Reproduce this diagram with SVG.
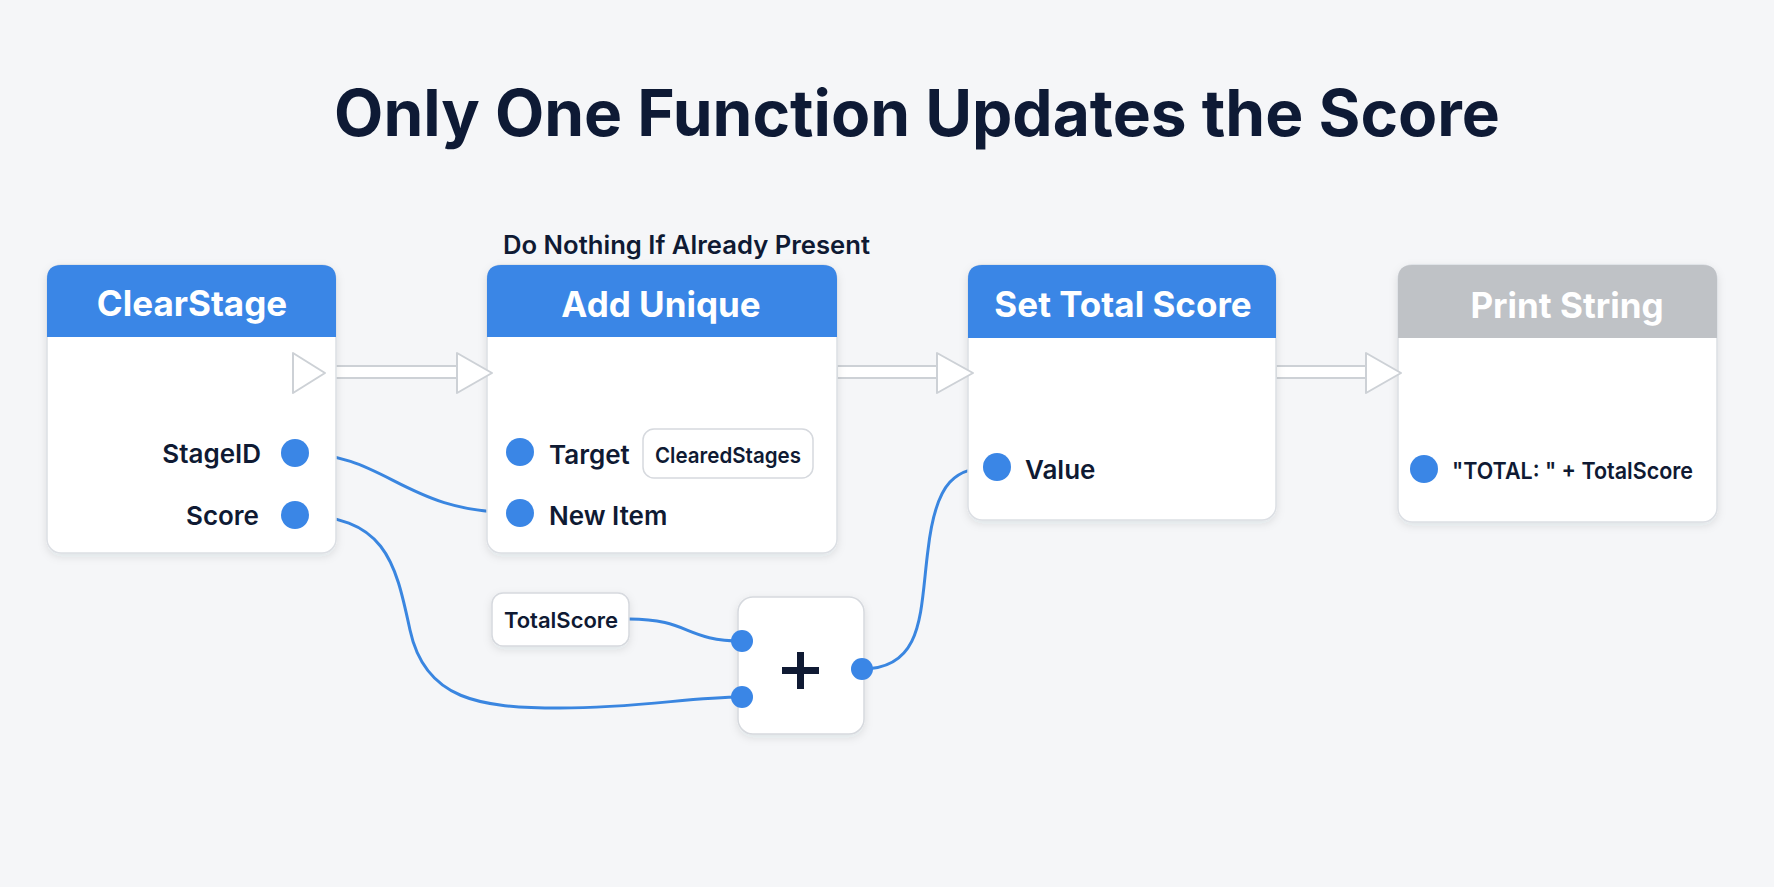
<svg xmlns="http://www.w3.org/2000/svg" width="1774" height="887" viewBox="0 0 1774 887">
<defs>
<filter id="sh" x="-10%" y="-10%" width="120%" height="130%">
<feDropShadow dx="0" dy="3" stdDeviation="4" flood-color="#1a2540" flood-opacity="0.10"/>
</filter>
<style>
.body{fill:#ffffff;stroke:#dcdfe4;stroke-width:1.5}
.hdr{fill:#3a86e6}
.hdrg{fill:#bfc2c6}
.ttl{font-family:Inter,"Liberation Sans",sans-serif;font-weight:700;font-size:35px;fill:#ffffff;text-anchor:middle}
.lbl{font-family:Inter,"Liberation Sans",sans-serif;font-weight:600;font-size:26px;fill:#0f1a33}
.pin{fill:#3a86e6}
.wire{fill:none;stroke:#3a86e0;stroke-width:3;stroke-linecap:round}
.exec{fill:#ffffff;stroke:#cdd1d6;stroke-width:2;stroke-linejoin:round}
.chip{fill:#ffffff;stroke:#d6d9de;stroke-width:1.5}
</style>
</defs>
<rect x="0" y="0" width="1774" height="887" fill="#f5f6f8"/>
<text x="917" y="136" font-family="Inter,'Liberation Sans',sans-serif" font-weight="700" font-size="64" fill="#0e1a35" text-anchor="middle">Only One Function Updates the Score</text>

<g id="connectors">
<rect class="exec" x="322" y="366" width="140" height="12"/>
<rect class="exec" x="837" y="366" width="104" height="12"/>
<rect class="exec" x="1276" y="366" width="94" height="12"/>
<path class="wire" d="M295,453 C390,453 400,513 520,513"/>
<path class="wire" d="M295,515 C385,515 395,560 410,630 C425,700 480,708 560,708 C640,708 690,697 742,697"/>
<path class="wire" d="M629,619 C690,619 685,641 742,641"/>
<path class="wire" d="M862,669 C925,669 920,610 928,550 C936,480 955,467 997,467"/>
</g>

<g id="clearstage">
<rect class="body" x="47" y="265" width="289" height="288" rx="14" filter="url(#sh)"/>
<path class="hdr" d="M47,337 V279 Q47,265 61,265 H322 Q336,265 336,279 V337 Z"/>
<text class="ttl" x="192" y="316">ClearStage</text>
<polygon class="exec" points="293,353 325,373 293,393"/>
<text class="lbl" x="261" y="463" text-anchor="end">StageID</text>
<text class="lbl" x="259" y="525" text-anchor="end">Score</text>
<circle class="pin" cx="295" cy="453" r="14"/>
<circle class="pin" cx="295" cy="515" r="14"/>
</g>

<g id="addunique">
<text x="503" y="254" font-family="Inter,'Liberation Sans',sans-serif" font-weight="600" font-size="25" fill="#0f1a33" textLength="367" lengthAdjust="spacingAndGlyphs">Do Nothing If Already Present</text>
<rect class="body" x="487" y="265" width="350" height="288" rx="14" filter="url(#sh)"/>
<path class="hdr" d="M487,337 V279 Q487,265 501,265 H823 Q837,265 837,279 V337 Z"/>
<text class="ttl" x="661" y="317">Add Unique</text>
<polygon class="exec" points="457,353 492,373 457,393"/>
<circle class="pin" cx="520" cy="452" r="14"/>
<text class="lbl" x="549" y="464">Target</text>
<rect class="chip" x="643" y="429" width="170" height="49" rx="11"/>
<text x="728" y="463" font-family="Inter,'Liberation Sans',sans-serif" font-weight="600" font-size="22" fill="#0f1a33" text-anchor="middle" textLength="146" lengthAdjust="spacingAndGlyphs">ClearedStages</text>
<circle class="pin" cx="520" cy="513" r="14"/>
<text class="lbl" x="549" y="525">New Item</text>
</g>

<g id="settotalscore">
<rect class="body" x="968" y="265" width="308" height="255" rx="14" filter="url(#sh)"/>
<path class="hdr" d="M968,338 V279 Q968,265 982,265 H1262 Q1276,265 1276,279 V338 Z"/>
<text class="ttl" x="1123" y="317">Set Total Score</text>
<polygon class="exec" points="937,353 973,373 937,393"/>
<circle class="pin" cx="997" cy="467" r="14"/>
<text class="lbl" x="1025" y="479">Value</text>
</g>

<g id="printstring">
<rect class="body" x="1398" y="265" width="319" height="257" rx="14" filter="url(#sh)"/>
<path class="hdrg" d="M1398,338 V279 Q1398,265 1412,265 H1703 Q1717,265 1717,279 V338 Z"/>
<text class="ttl" x="1567" y="318" fill="#f6f7f8">Print String</text>
<polygon class="exec" points="1366,353 1401,373 1366,393"/>
<circle class="pin" cx="1424" cy="469" r="14"/>
<text x="1452" y="479" font-family="Inter,'Liberation Sans',sans-serif" font-weight="600" font-size="23" fill="#0f1a33" textLength="241" lengthAdjust="spacingAndGlyphs">"TOTAL: " + TotalScore</text>
</g>

<g id="totalscore">
<rect class="chip" x="492" y="593" width="137" height="53" rx="11" filter="url(#sh)"/>
<text x="561" y="628" font-family="Inter,'Liberation Sans',sans-serif" font-weight="600" font-size="22" fill="#0f1a33" text-anchor="middle">TotalScore</text>
</g>

<g id="add">
<rect class="chip" x="738" y="597" width="126" height="137" rx="15" filter="url(#sh)"/>
<rect x="782" y="667" width="37" height="7" fill="#0f1a33"/>
<rect x="797" y="652" width="7" height="37" fill="#0f1a33"/>
<circle class="pin" cx="742" cy="641" r="11"/>
<circle class="pin" cx="742" cy="697" r="11"/>
<circle class="pin" cx="862" cy="669" r="11"/>
</g>
</svg>
